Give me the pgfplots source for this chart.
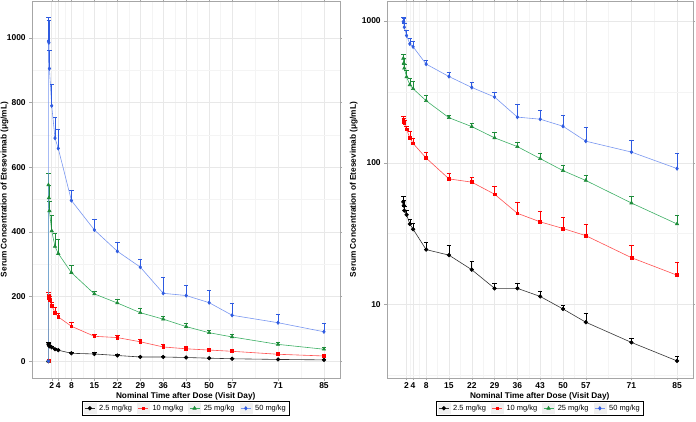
\documentclass[border=0pt]{standalone}
\usepackage{pgfplots}
\usepackage{pgfplotstable}
\usepackage{fontspec}
\setmainfont{Liberation Sans}
\pgfplotsset{compat=1.18}

\definecolor{cBlk}{HTML}{000000}
\definecolor{cBlkL}{HTML}{333333}
\definecolor{cRed}{HTML}{FF0000}
\definecolor{cRedL}{HTML}{FF5050}
\definecolor{cGrn}{HTML}{1E8C3A}
\definecolor{cGrnL}{HTML}{3CAF64}
\definecolor{cBlu}{HTML}{2F5BE0}
\definecolor{cBluL}{HTML}{7896F0}

% t = visit day, c = mean concentration, e = upper error
\pgfplotstableread{
t c e
1 0 0
1 53 5
1.15 50 4
1.3 46 3
2 43 3
3 37 3
4 34 3.7
8 24.4 3.1
15 22.3 3.8
22 17.6 2.6
29 13.0 1.1
36 13.0 1.2
43 11.4 1.0
50 9.3 0.6
57 7.5 1.2
71 5.4 0.4
85 4.0 0.3
}\dlow
\pgfplotstableread{
t c e
1 0 0
1 200 13
1.15 195 12
1.3 190 10
2 172 10
3 150 16
4 137 11
8 108 11
15 77 7
22 73 6.5
29 60 8
36 44 9
43 38.3 7.2
50 34.4 6.8
57 30.6 6.3
71 21.4 4.6
85 16.1 3.9
}\dten
\pgfplotstableread{
t c e
1 0 0
1 545 35
1.15 505 38
1.3 465 30
2 403 47
3 355 42
4 333 45
8 274 24
15 208 7
22 180 10
29 150 13
36 130 9
43 107 9
50 88 8
57 75 7
71 52 6
85 37 5.5
}\dtwentyfive
\pgfplotstableread{
t c e
1 0 0
1 990 75
1.15 985 68
1.3 905 55
2 790 65
3 690 65
4 658 58
8 497 32
15 406 32
22 340 28
29 291 25
36 210 49
43 203 32
50 181 37
57 142 36
71 119 25
85 91 25
}\dfifty

\pgfplotsset{
  pkstyle/.style={
    scale only axis, width=308bp, height=377bp,
    xmin=-4.1, xmax=89.8,
    xtick={2,4,8,15,22,29,36,43,50,57,71,85},
    minor xtick={3,6,11.5,18.5,25.5,32.5,39.5,46.5,53.5,64,78},
    xmajorgrids, xminorgrids, ymajorgrids, yminorgrids,
    major grid style={gray!18, line width=0.5pt},
    minor grid style={gray!9, line width=0.4pt},
    axis line style={gray!70},
    tick style={gray!70},
    tick align=outside, major tick length=2.5bp, minor tick length=0pt,
    ticklabel style={font=\bfseries\fontsize{8.5}{9}\selectfont},
    xticklabel style={inner sep=1.5pt},
    /pgf/number format/assume math mode=true,
    /pgf/number format/1000 sep={},
    label style={font=\bfseries\fontsize{8.3}{9}\selectfont},
    xlabel={Nominal Time after Dose (Visit Day)},
    ylabel={Serum Concentration of Etesevimab (μg/mL)},
    xlabel style={at={(axis description cs:0.5,-0.048)}, anchor=center},
    legend columns=4,
    legend style={at={(0.5,-0.062)}, anchor=north, draw=black, line width=0.6pt,
      font=\fontsize{7.5}{8}\selectfont, inner sep=1.2pt,
      /tikz/every odd column/.append style={column sep=1pt},
      /tikz/every even column/.append style={column sep=3pt}},
    legend cell align=left,
    legend image code/.code={
      \fill[gray!12] (-1bp,-5bp) rectangle (11bp,5bp);
      \draw[mark repeat=2, mark phase=2, #1] plot coordinates {(0bp,0bp) (5bp,0bp) (10bp,0bp)};
    },
    error bars/y dir=plus, error bars/y explicit,
    error bars/error mark options={rotate=90, mark size=2.2bp, line width=0.6pt},
    every axis plot/.append style={line width=0.6pt},
  },
  sBlk/.style={color=cBlkL, mark=*, mark size=1.8bp, mark options={cBlk},
    error bars/error bar style={cBlk, line width=0.6pt}},
  sRed/.style={color=cRedL, mark=square*, mark size=1.4bp, mark options={cRed},
    error bars/error bar style={cRed, line width=0.6pt}},
  sGrn/.style={color=cGrnL, mark=triangle*, mark size=1.9bp, mark options={cGrn},
    error bars/error bar style={cGrn, line width=0.6pt}},
  sBlu/.style={color=cBluL, mark=diamond*, mark size=1.7bp, mark options={cBlu},
    error bars/error bar style={cBlu, line width=0.6pt}},
}

\begin{document}
\begin{tikzpicture}
\path[use as bounding box] (0,0) rectangle (696bp,422bp);

\begin{axis}[pkstyle, at={(31.7bp,44bp)}, anchor=south west,
  ymin=-52, ymax=1114,
  ytick={0,200,400,600,800,1000},
  minor ytick={100,300,500,700,900},
  ylabel style={at={(axis description cs:-0.088,0.5)}, anchor=center},
]
\addplot[sBlk] table[x=t, y=c, y error plus=e] {\dlow};
\addlegendentry{2.5 mg/kg}
\addplot[sRed] table[x=t, y=c, y error plus=e] {\dten};
\addlegendentry{10 mg/kg}
\addplot[sGrn] table[x=t, y=c, y error plus=e] {\dtwentyfive};
\addlegendentry{25 mg/kg}
\addplot[sBlu] table[x=t, y=c, y error plus=e] {\dfifty};
\addlegendentry{50 mg/kg}
\end{axis}

\begin{axis}[pkstyle, at={(386.7bp,44bp)}, anchor=south west, width=306bp,
  ymode=log, ymin=3.03, ymax=1385,
  ytick={10,100,1000}, yticklabels={10,100,1000},
  minor ytick={3.1623,31.623,316.23},
  ylabel style={at={(axis description cs:-0.108,0.5)}, anchor=center},
]
\addplot[sBlk, skip coords between index={0}{1}] table[x=t, y=c, y error plus=e] {\dlow};
\addlegendentry{2.5 mg/kg}
\addplot[sRed, skip coords between index={0}{1}] table[x=t, y=c, y error plus=e] {\dten};
\addlegendentry{10 mg/kg}
\addplot[sGrn, skip coords between index={0}{1}] table[x=t, y=c, y error plus=e] {\dtwentyfive};
\addlegendentry{25 mg/kg}
\addplot[sBlu, skip coords between index={0}{1}] table[x=t, y=c, y error plus=e] {\dfifty};
\addlegendentry{50 mg/kg}
\end{axis}
\end{tikzpicture}
\end{document}
